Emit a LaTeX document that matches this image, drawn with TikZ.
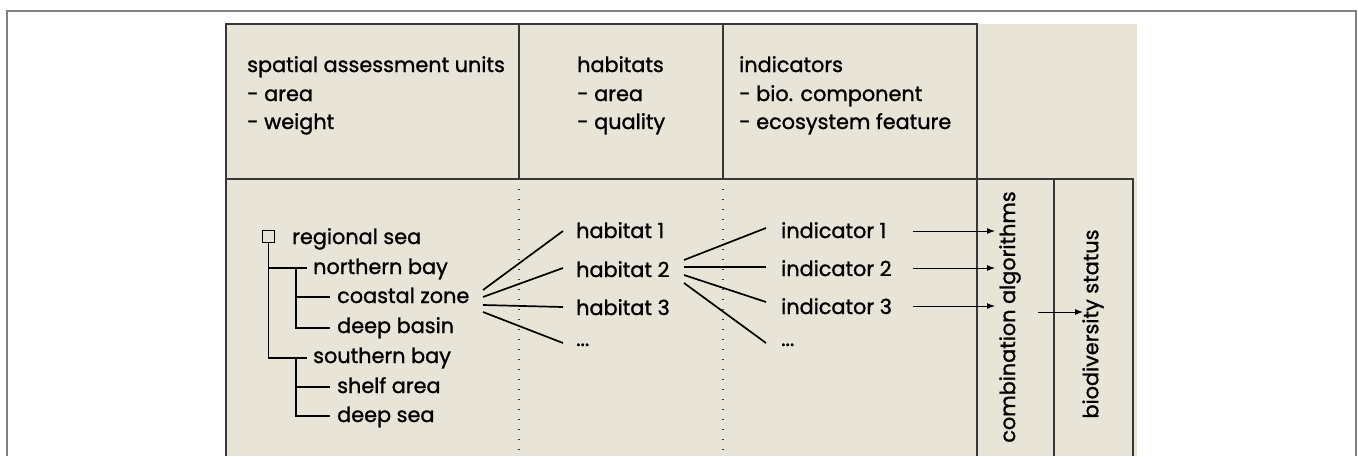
\documentclass[tikz,border=0pt]{standalone}
\usepackage{fontspec}
\setmainfont{Poppins}[FakeBold=1.2]
\usetikzlibrary{arrows.meta}
\definecolor{beige}{RGB}{233,228,216}
\definecolor{framegray}{RGB}{128,128,128}
\definecolor{boxline}{RGB}{55,55,55}
\begin{document}
\begin{tikzpicture}[x=1pt,y=-1pt,
  txt/.style={anchor=base west, inner sep=0pt, font=\fontsize{20.8}{28}\selectfont, text=black},
  vtxt/.style={inner sep=0pt, font=\fontsize{20.8}{28}\selectfont, text=black, rotate=90},
  boxl/.style={draw=boxline, line width=1.3pt},
  tree/.style={draw=black, line width=1.7pt},
  link/.style={draw=black, line width=1.7pt},
  arr/.style={draw=black, line width=1pt, -{Latex[length=8pt,width=6pt]}},
  dotl/.style={draw=boxline, line width=1.3pt, dash pattern=on 1.3pt off 8.7pt}
]
\useasboundingbox (0,0) rectangle (1358,456);
% outer frame
\draw[framegray, line width=2pt] (7,456) -- (7,11) -- (1356,11) -- (1356,456);
% beige area
\fill[beige] (226,24) rectangle (1137,456);
% header boxes
\draw[boxl] (226,456) -- (226,24) -- (977,24) -- (977,456);
\draw[boxl] (519,24) -- (519,179);
\draw[boxl] (723,24) -- (723,179);
\draw[boxl] (226,179) -- (1133,179) -- (1133,456);
\draw[boxl] (1054,179) -- (1054,456);
\draw[dotl] (519,179) -- (519,456);
\draw[dotl] (723,179) -- (723,456);
% header texts
\node[txt] (h1a) at (247,72) {spatial assessment units};
\node[txt] (h1b) at (247,101) {- area};
\node[txt] (h1c) at (247,129) {- weight};
\node[txt] (h2a) at (577,72) {habitats};
\node[txt] (h2b) at (577,101) {- area};
\node[txt] (h2c) at (577,129) {- quality};
\node[txt] (h3a) at (739,72) {indicators};
\node[txt] (h3b) at (739,101) {- bio. component};
\node[txt] (h3c) at (739,129) {- ecosystem feature};
% tree
\node[draw=black, line width=1.4pt, minimum size=12pt, inner sep=0pt] (sq) at (268.5,236.5) {};
\node[txt] (rs) at (292,244) {regional sea};
\node[txt] (nb) at (313,274) {northern bay};
\node[txt] (cz) at (337,303) {coastal zone};
\node[txt] (db) at (337,333) {deep basin};
\node[txt] (sb) at (313,363) {southern bay};
\node[txt] (sa) at (337,393) {shelf area};
\node[txt] (ds) at (337,422) {deep sea};
\coordinate (t0) at (268.5,358);
\coordinate (tn) at (307,268);
\coordinate (ts) at (307,358);
\coordinate (tc) at (330,297);
\coordinate (td) at (330,328);
\coordinate (tsa) at (330,387);
\coordinate (tds) at (330,416);
\draw[tree] (sq.south) -- (t0) -- (ts);
\draw[tree] (268.5,268) -- (tn);
\draw[tree] (296,268) |- (td);
\draw[tree] (296,297) -- (tc);
\draw[tree] (296,358) |- (tds);
\draw[tree] (296,387) -- (tsa);
% habitats
\node[txt] (hab1) at (576,238) {habitat 1};
\node[txt] (hab2) at (576,277) {habitat 2};
\node[txt] (hab3) at (576,315) {habitat 3};
\node[txt] (hab4) at (576,346) {...};
% indicators
\node[txt] (ind1) at (781,238) {indicator 1};
\node[txt] (ind2) at (781,276) {indicator 2};
\node[txt] (ind3) at (781,314) {indicator 3};
\node[txt] (ind4) at (781,346) {...};
% links coastal zone -> habitats
\coordinate (cz1) at (483,290); \coordinate (cz2) at (483,297);
\coordinate (cz3) at (483,305); \coordinate (cz4) at (483,312);
\coordinate (hw1) at (563,231); \coordinate (hw2) at (563,268);
\coordinate (hw3) at (563,307); \coordinate (hw4) at (563,343);
\draw[link] (cz1) -- (hw1);
\draw[link] (cz2) -- (hw2);
\draw[link] (cz3) -- (hw3);
\draw[link] (cz4) -- (hw4);
% links habitat 2 -> indicators
\coordinate (he1) at (684,260); \coordinate (he2) at (684,267);
\coordinate (he3) at (684,275); \coordinate (he4) at (684,283);
\coordinate (iw1) at (766,228); \coordinate (iw2) at (766,267);
\coordinate (iw3) at (766,302); \coordinate (iw4) at (766,343);
\draw[link] (he1) -- (iw1);
\draw[link] (he2) -- (iw2);
\draw[link] (he3) -- (iw3);
\draw[link] (he4) -- (iw4);
% right columns
\node[vtxt] (comb) at (1010,317) {combination algorithms};
\node[vtxt] (bio) at (1093,324) {biodiversity status};
\coordinate (a1s) at (913,231); \coordinate (a1e) at (995,231);
\coordinate (a2s) at (913,268); \coordinate (a2e) at (995,268);
\coordinate (a3s) at (913,306); \coordinate (a3e) at (995,306);
\coordinate (bs) at (1038,312); \coordinate (be) at (1083,312);
\draw[arr] (a1s) -- (a1e);
\draw[arr] (a2s) -- (a2e);
\draw[arr] (a3s) -- (a3e);
\draw[arr] (bs) -- (be);
\end{tikzpicture}
\end{document}
